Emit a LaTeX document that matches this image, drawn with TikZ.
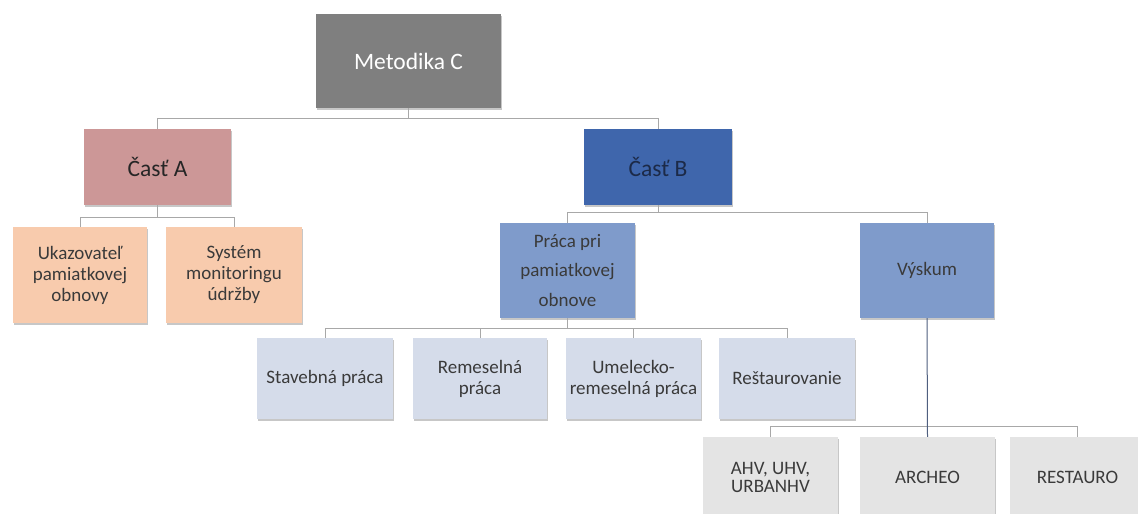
\documentclass[tikz,border=0pt]{standalone}
\usepackage{fontspec}
\setmainfont{Carlito}
\usetikzlibrary{shadows}
\definecolor{cMeta}{HTML}{7F7F7F}
\definecolor{cA}{HTML}{CC9797}
\definecolor{cB}{HTML}{3F66AC}
\definecolor{cPeach}{HTML}{F8CBAD}
\definecolor{cMid}{HTML}{7F9BCB}
\definecolor{cLight}{HTML}{D5DCEA}
\definecolor{cGrayBox}{HTML}{E4E4E4}
\definecolor{cLine}{HTML}{A8A8A8}
\definecolor{cDarkLine}{HTML}{4F5F7F}
\definecolor{cText}{HTML}{3A3A3A}
\definecolor{cTextB}{HTML}{1C2A48}
\begin{document}
\begin{tikzpicture}[x=1pt,y=-1pt,
  box/.style={rectangle, draw=none, inner sep=2pt, align=center, text=cText,
    drop shadow={shadow xshift=0.6pt, shadow yshift=-1.6pt, fill=black, opacity=0.22}},
  bigtext/.style={font=\fontsize{23.5}{28}\selectfont},
  smalltext/.style={font=\fontsize{19}{21}\selectfont},
  conn/.style={draw=cLine, line width=1pt}]
\useasboundingbox (0,0) rectangle (1138,514);
\clip (0,0) rectangle (1138,514);
\fill[white] (0,0) rectangle (1138,514);

% bus levels
\coordinate (bus0) at (0,118);
\coordinate (busA) at (0,217);
\coordinate (busB) at (0,212);
\coordinate (busP) at (0,328);
\coordinate (busV) at (0,426);

% nodes
\node[box, bigtext, fill=cMeta, text=white, minimum width=185pt, minimum height=94pt] (meta) at (408.5,61) {Metodika C};
\node[box, bigtext, fill=cA, text=black!85, minimum width=147pt, minimum height=76pt] (castA) at (157.5,167) {Časť A};
\node[box, bigtext, fill=cB, text=cTextB, minimum width=148pt, minimum height=76pt] (castB) at (658,167) {Časť B};

\node[box, smalltext, fill=cPeach, minimum width=134pt, minimum height=96pt] (ukaz) at (80,275) {Ukazovateľ\\pamiatkovej\\obnovy};
\node[box, smalltext, fill=cPeach, minimum width=136pt, minimum height=96pt] (sys) at (234,275) {Systém\\monitoringu\\údržby};

\node[box, font=\fontsize{19}{29.5}\selectfont, fill=cMid, minimum width=135pt, minimum height=95pt] (praca) at (567.5,270.5) {Práca pri\\pamiatkovej\\obnove};
\node[box, smalltext, fill=cMid, minimum width=134pt, minimum height=95pt] (vysk) at (927,270.5) {Výskum};

\node[box, smalltext, fill=cLight, minimum width=136pt, minimum height=81pt] (stav) at (325,378.5) {Stavebná práca};
\node[box, smalltext, fill=cLight, minimum width=134pt, minimum height=81pt] (rem) at (480,378.5) {Remeselná\\práca};
\node[box, smalltext, fill=cLight, minimum width=135pt, minimum height=81pt] (umel) at (633.5,378.5) {Umelecko-\\remeselná práca};
\node[box, smalltext, fill=cLight, minimum width=136pt, minimum height=81pt] (rest) at (787,378.5) {Reštaurovanie};

\node[box, font=\fontsize{19}{18}\selectfont, fill=cGrayBox, minimum width=135pt, minimum height=81pt] (ahv) at (770.5,477.5) {AHV, UHV,\\URBANHV};
\node[box, smalltext, fill=cGrayBox, minimum width=135pt, minimum height=81pt] (arch) at (927.5,477.5) {ARCHEO};
\node[box, smalltext, fill=cGrayBox, minimum width=135pt, minimum height=81pt] (resta) at (1077.5,477.5) {RESTAURO};

% connectors
\draw[conn] (meta.south) -- (meta.south |- bus0) -| (castA.north);
\draw[conn] (meta.south |- bus0) -| (castB.north);

\draw[conn] (castA.south) -- (castA.south |- busA) -| (ukaz.north);
\draw[conn] (castA.south |- busA) -| (sys.north);

\draw[conn] (castB.south) -- (castB.south |- busB) -| (praca.north);
\draw[conn] (castB.south |- busB) -| (vysk.north);

\draw[conn] (praca.south) -- (praca.south |- busP) -| (stav.north);
\draw[conn] (praca.south |- busP) -| (rem.north);
\draw[conn] (praca.south |- busP) -| (umel.north);
\draw[conn] (praca.south |- busP) -| (rest.north);

\draw[conn] (ahv.north) -- (ahv.north |- busV) -- (resta.north |- busV) -- (resta.north);
\draw[draw=cDarkLine, line width=1pt] (vysk.south) -- (arch.north);
\end{tikzpicture}
\end{document}
